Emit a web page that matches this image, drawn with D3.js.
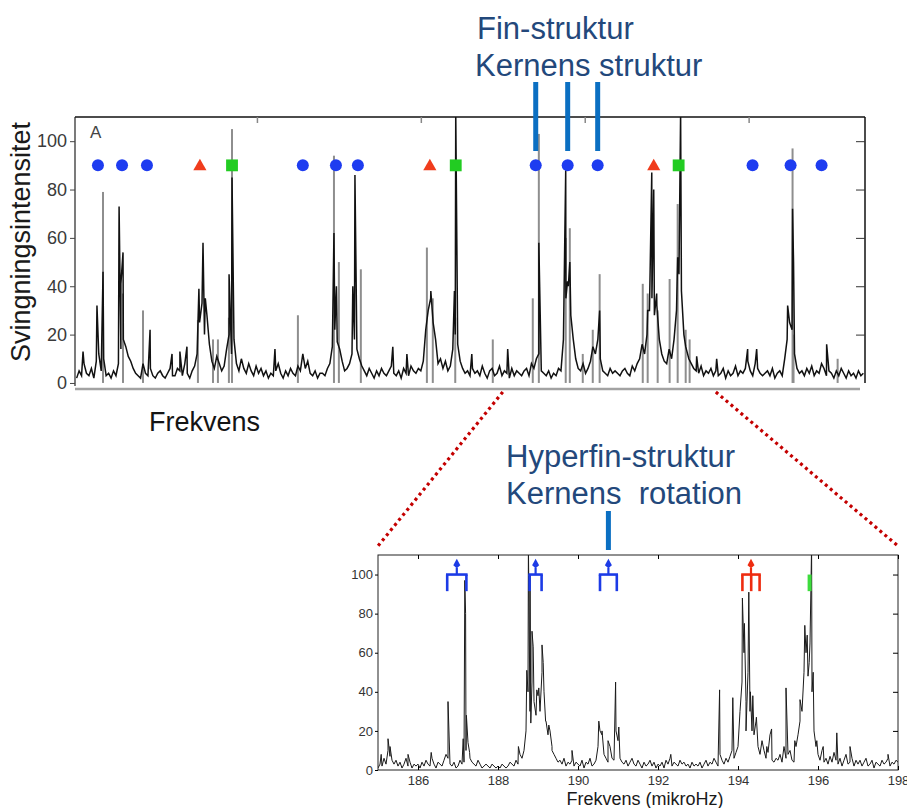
<!DOCTYPE html>
<html>
<head>
<meta charset="utf-8">
<script src="https://cdn.jsdelivr.net/npm/d3@7"></script>
<style>
    body { margin: 0; background: #fff; }
    text { font-family: "Liberation Sans", Arial, sans-serif; }
</style>
</head>
<body>
<div id="chart"></div>
<script>
// ---------- DATA ----------
// top panel: spectrum sampled every 0.15 microHz from 159.0
const topStart = 159.0, topStep = 0.15;
const topNoise = [
    2, 5, 3, 8, 4, 3, 6, 2, 9, 12, 5, 10, 3, 4, 2, 5, 3, 8, 14, 18,
    15, 11, 9, 6, 4, 3, 2, 8, 4, 3, 6, 3, 2, 4, 5, 3, 2, 4, 6, 3,
    3, 6, 5, 3, 8, 4, 2, 5, 7, 12, 25, 33, 20, 28, 16, 9, 6, 11, 8, 5,
    7, 14, 20, 12, 18, 8, 5, 10, 6, 4, 8, 5, 3, 7, 4, 6, 3, 5, 2, 4,
    3, 5, 8, 4, 2, 5, 3, 6, 4, 3, 7, 5, 12, 6, 9, 4, 3, 5, 2, 4,
    4, 3, 6, 8, 15, 22, 17, 14, 9, 5, 6, 8, 12, 18, 14, 10, 7, 5, 3, 6,
    4, 2, 5, 3, 6, 4, 3, 5, 7, 4, 3, 5, 2, 6, 4, 3, 7, 5, 4, 6,
    5, 9, 22, 30, 35, 25, 18, 8, 10, 6, 9, 5, 7, 14, 20, 16, 9, 6, 4, 5,
    3, 6, 4, 5, 3, 7, 4, 2, 5, 6, 3, 4, 7, 3, 5, 4, 2, 6, 3, 5,
    4, 3, 5, 6, 3, 8, 6, 10, 12, 5, 4, 3, 5, 2, 4, 3, 6, 5, 18, 35,
    40, 28, 18, 10, 6, 5, 8, 4, 6, 9, 15, 12, 18, 10, 5, 4, 3, 6, 4, 5,
    4, 3, 5, 6, 4, 3, 7, 5, 8, 10, 16, 12, 20, 30, 35, 28, 32, 18, 12, 9,
    8, 14, 10, 18, 30, 45, 38, 20, 14, 10, 8, 6, 5, 4, 7, 3, 5, 4, 6, 3,
    5, 3, 4, 6, 2, 5, 3, 4, 7, 3, 5, 4, 6, 9, 5, 3, 8, 6, 4, 3,
    4, 5, 3, 6, 2, 4, 5, 3, 10, 18, 25, 22, 12, 6, 4, 5, 3, 6, 4, 7,
    3, 5, 4, 8, 6, 3, 5, 4, 2, 5, 3, 6, 4, 2, 5, 3, 4, 2, 5, 3,
    4
];
// sharp peaks of the black spectrum [freq, power]
const topPeaks = [
    [159.39, 13], [160.24, 32], [160.61, 46], [161.59, 73], [161.70, 41], [161.83, 54],
    [163.48, 22], [164.82, 12], [165.30, 13], [165.73, 15], [166.46, 39], [166.71, 58],
    [166.85, 35], [168.30, 45], [168.48, 85], [171.10, 14], [174.70, 62], [174.85, 40],
    [175.85, 40], [175.98, 86], [178.29, 15], [179.15, 12], [180.45, 30], [180.61, 38],
    [182.05, 38], [182.13, 112], [183.11, 12], [185.30, 14], [187.20, 58], [188.84, 88],
    [188.95, 42], [189.09, 50], [190.91, 30], [193.84, 30], [194.09, 87], [194.21, 80],
    [194.39, 37], [195.67, 52], [195.85, 112], [196.16, 15], [196.83, 11], [198.05, 10],
    [199.94, 14], [200.49, 14], [202.38, 32], [202.68, 72], [202.74, 50], [204.76, 16]
];
// the grey (second) spectrum, only where it shows above the black one
const topGray = [
    [160.61, 79], [161.83, 37], [163.05, 30], [166.40, 26], [167.32, 18], [167.62, 18],
    [168.29, 27], [168.48, 105], [172.50, 28], [174.70, 94], [175.00, 50], [176.34, 47],
    [180.37, 56], [180.73, 35], [182.10, 27], [184.39, 18], [186.83, 35], [187.20, 103],
    [188.84, 60], [189.09, 64], [189.88, 12], [190.49, 22], [190.91, 45], [193.54, 41],
    [193.84, 37], [194.45, 30], [195.18, 43], [195.67, 74], [196.16, 22], [196.40, 18],
    [202.68, 97], [202.74, 20], [205.43, 10]
];
const topCircles = [160.30, 161.77, 163.29, 172.80, 174.82, 176.16, 187.01, 188.96, 190.79, 200.24, 202.56, 204.45];
const topTriangles = [166.52, 180.55, 194.21];
const topSquares = [168.48, 182.13, 195.73];
const fineModes = [187.01, 188.96, 190.79];
const topXTicks = [170, 180, 190, 200];
const yTicks = [0, 20, 40, 60, 80, 100];

// bottom panel: spectrum sampled every 0.05 microHz from 185.0
const botStart = 185.0, botStep = 0.05;
const botNoise = [
    1, 3, 2, 6, 3, 10, 7, 5, 3, 5, 2, 4, 1, 3, 6, 2, 4, 1, 3, 2,
    3, 1, 4, 2, 5, 3, 2, 6, 3, 1, 4, 3, 2, 5, 8, 6, 3, 2, 4, 1,
    2, 5, 3, 4, 10, 14, 6, 4, 3, 2, 5, 3, 1, 2, 3, 2, 1, 3, 2, 1,
    2, 1, 3, 2, 1, 2, 4, 3, 2, 5, 3, 8, 6, 10, 20, 40, 30, 45, 35, 28,
    38, 30, 50, 40, 25, 18, 20, 12, 8, 6, 4, 5, 3, 6, 2, 4, 3, 5, 2, 4,
    3, 2, 5, 1, 4, 3, 6, 2, 3, 5, 12, 20, 18, 8, 6, 4, 12, 6, 5, 20,
    15, 6, 4, 3, 5, 2, 4, 6, 3, 2, 5, 3, 1, 4, 2, 3, 5, 2, 4, 1,
    3, 2, 4, 1, 5, 3, 6, 2, 4, 3, 2, 5, 3, 4, 2, 3, 1, 4, 2, 3,
    2, 4, 1, 3, 5, 2, 4, 3, 6, 4, 2, 8, 5, 3, 6, 4, 7, 10, 6, 9,
    12, 30, 45, 60, 35, 50, 30, 20, 18, 25, 12, 8, 15, 10, 6, 9, 18, 5, 4, 6,
    5, 8, 4, 12, 6, 8, 10, 5, 4, 12, 18, 25, 30, 50, 60, 48, 65, 40, 20, 12,
    8, 5, 10, 4, 6, 3, 7, 4, 9, 5, 3, 6, 2, 5, 8, 3, 4, 6, 2, 5,
    3, 5, 2, 4, 6, 2, 3, 5, 1, 4, 3, 2, 5, 3, 4, 6, 2, 4, 3, 5,
    4
];
const botPeaks = [
    [185.08, 8], [185.25, 16], [185.30, 12], [185.75, 8], [186.33, 9], [186.75, 35],
    [187.13, 16], [187.17, 97], [187.19, 80], [187.21, 28], [187.29, 9], [188.51, 12],
    [188.72, 51], [188.76, 115], [188.80, 100], [188.82, 24], [188.85, 71], [188.88, 63],
    [188.97, 41], [189.02, 42], [189.10, 64], [189.13, 55], [189.19, 25], [189.27, 23],
    [189.35, 10], [189.85, 10], [190.52, 25], [190.60, 20], [190.75, 15], [190.94, 45],
    [191.02, 22], [192.32, 8], [193.54, 41], [193.87, 37], [194.11, 88], [194.16, 75],
    [194.20, 20], [194.27, 91], [194.31, 40], [194.37, 38], [194.46, 27], [194.72, 12],
    [194.84, 21], [195.20, 42], [195.42, 15], [195.55, 36], [195.67, 74], [195.73, 69],
    [195.78, 55], [195.84, 115], [195.88, 50], [195.97, 15], [196.13, 12], [196.47, 19],
    [196.80, 12], [197.75, 8]
];
// split components of the modes (legs of each marker)
const blueSplits = [[186.73, 187.21], [188.79, 189.09], [190.55, 190.97]];
const redSplits = [[194.11, 194.33, 194.54]];
const greenSplits = [[195.79]];
const hyperMode = 190.76;
const zoomRange = [185, 198];
const botXTicks = [186, 188, 190, 192, 194, 196, 198];

// ---------- SVG ----------
const svg = d3.select("#chart").append("svg")
    .attr("width", 907)
    .attr("height", 808);

const darkBlue = "#23487b";

// ---------- TOP PANEL ----------
const xTop = d3.scaleLinear().domain([158.9, 207.1]).range([75, 865]);
const yTop = d3.scaleLinear().domain([-2.5, 110]).range([389, 117]);

svg.append("clipPath").attr("id", "topClip")
    .append("rect").attr("x", 75).attr("y", 117).attr("width", 790).attr("height", 272);

const topPlot = svg.append("g").attr("clip-path", "url(#topClip)");

topPlot.selectAll(".gspike").data(topGray).join("line")
    .attr("class", "gspike")
    .attr("x1", d => xTop(d[0])).attr("x2", d => xTop(d[0]))
    .attr("y1", yTop(0)).attr("y2", d => yTop(d[1]))
    .attr("stroke", "#8e8e8e")
    .attr("stroke-width", 2);

let topSeries = topNoise.map((v, i) => [topStart + i * topStep, v])
    .concat(topPeaks)
    .sort((a, b) => a[0] - b[0]);

topPlot.append("path")
    .datum(topSeries)
    .attr("fill", "none")
    .attr("stroke", "#111")
    .attr("stroke-width", 1.5)
    .attr("d", d3.line().x(d => xTop(d[0])).y(d => yTop(d[1])));

// frame
svg.append("line").attr("x1", 75).attr("x2", 865).attr("y1", 117).attr("y2", 117)
    .attr("stroke", "#111").attr("stroke-width", 1.5);
svg.append("line").attr("x1", 75).attr("x2", 75).attr("y1", 117).attr("y2", 386)
    .attr("stroke", "#222").attr("stroke-width", 1.2);
svg.append("line").attr("x1", 865).attr("x2", 865).attr("y1", 117).attr("y2", 383)
    .attr("stroke", "#111").attr("stroke-width", 1.5);
svg.append("line").attr("x1", 75).attr("x2", 860).attr("y1", 389).attr("y2", 389)
    .attr("stroke", "#a2a2a2").attr("stroke-width", 2.5);

// axes
const topLeft = svg.append("g")
    .attr("transform", "translate(75,0)")
    .call(d3.axisLeft(yTop).tickValues(yTicks).tickSize(5).tickPadding(3));
topLeft.select(".domain").remove();
topLeft.selectAll("text").style("font-size", "18px").attr("fill", "#3a3a3a");
topLeft.selectAll("line").attr("stroke", "#444");

const topRight = svg.append("g")
    .attr("transform", "translate(865,0)")
    .call(d3.axisLeft(yTop).tickValues(yTicks.slice(1)).tickSize(9).tickFormat(""));
topRight.select(".domain").remove();
topRight.selectAll("line").attr("stroke", "#333");

const topTop = svg.append("g")
    .attr("transform", "translate(0,117)")
    .call(d3.axisBottom(xTop).tickValues(topXTicks).tickSize(6).tickFormat(""));
topTop.select(".domain").remove();
topTop.selectAll("line").attr("stroke", "#888").attr("stroke-width", 1.5);

// markers
svg.selectAll(".circ").data(topCircles).join("circle")
    .attr("class", "circ")
    .attr("cx", d => xTop(d)).attr("cy", yTop(90)).attr("r", 6)
    .attr("fill", "#1e3cf0");
svg.selectAll(".tri").data(topTriangles).join("path")
    .attr("class", "tri")
    .attr("transform", d => "translate(" + xTop(d) + "," + (yTop(90) + 1) + ")")
    .attr("d", d3.symbol(d3.symbolTriangle, 75))
    .attr("fill", "#f03c1c");
svg.selectAll(".sq").data(topSquares).join("path")
    .attr("class", "sq")
    .attr("transform", d => "translate(" + xTop(d) + "," + yTop(90) + ")")
    .attr("d", d3.symbol(d3.symbolSquare, 140))
    .attr("fill", "#22cc22");

svg.append("text").attr("x", 90).attr("y", 138).text("A")
    .style("font-size", "17px").attr("fill", "#444");

svg.append("text")
    .attr("transform", "translate(30,242) rotate(-90)")
    .attr("text-anchor", "middle")
    .style("font-size", "27px")
    .attr("fill", "#1a1a1a")
    .text("Svingningsintensitet");

svg.append("text").attr("x", 149).attr("y", 431)
    .style("font-size", "27px").attr("fill", "#141414")
    .text("Frekvens");

// fine structure pointers
svg.selectAll(".fine").data(fineModes).join("line")
    .attr("class", "fine")
    .attr("x1", d => xTop(d)).attr("x2", d => xTop(d))
    .attr("y1", 82).attr("y2", 151)
    .attr("stroke", "#0b6fc2").attr("stroke-width", 5);

svg.append("text").attr("x", 477).attr("y", 39)
    .style("font-size", "31px").attr("fill", darkBlue).text("Fin-struktur");
svg.append("text").attr("x", 475).attr("y", 76)
    .style("font-size", "31px").attr("fill", darkBlue).text("Kernens struktur");

// ---------- BOTTOM PANEL ----------
const xBot = d3.scaleLinear().domain([185, 198]).range([378, 898]);
const yBot = d3.scaleLinear().domain([0, 110]).range([770, 555]);

// zoom connectors
svg.selectAll(".zoomline").data(zoomRange).join("line")
    .attr("class", "zoomline")
    .attr("x1", d => xTop(d)).attr("y1", 392)
    .attr("x2", d => xBot(d)).attr("y2", 546)
    .attr("stroke", "#c40000")
    .attr("stroke-width", 3.2)
    .attr("stroke-dasharray", "3 3.5");

svg.append("clipPath").attr("id", "botClip")
    .append("rect").attr("x", 378).attr("y", 555).attr("width", 520).attr("height", 215);

let botSeries = botNoise.map((v, i) => [botStart + i * botStep, v])
    .concat(botPeaks)
    .sort((a, b) => a[0] - b[0]);

svg.append("g").attr("clip-path", "url(#botClip)")
    .append("path")
    .datum(botSeries)
    .attr("fill", "none")
    .attr("stroke", "#1a1a1a")
    .attr("stroke-width", 1)
    .attr("d", d3.line().x(d => xBot(d[0])).y(d => yBot(d[1])));

svg.append("rect").attr("x", 378).attr("y", 555).attr("width", 520).attr("height", 215)
    .attr("fill", "none").attr("stroke", "#222").attr("stroke-width", 1);

const botAxis = svg.append("g")
    .attr("transform", "translate(0,770)")
    .call(d3.axisBottom(xBot).tickValues(botXTicks).tickSize(-4).tickPadding(6));
botAxis.select(".domain").remove();
botAxis.selectAll("text").style("font-size", "13px").attr("fill", "#333");

const botLeft = svg.append("g")
    .attr("transform", "translate(378,0)")
    .call(d3.axisLeft(yBot).tickValues(yTicks).tickSize(3).tickPadding(2));
botLeft.select(".domain").remove();
botLeft.selectAll("text").style("font-size", "13px").attr("fill", "#333");

const botTop = svg.append("g")
    .attr("transform", "translate(0,555)")
    .call(d3.axisBottom(xBot).tickValues(botXTicks).tickSize(4).tickFormat(""));
botTop.select(".domain").remove();

const botRight = svg.append("g")
    .attr("transform", "translate(898,0)")
    .call(d3.axisLeft(yBot).tickValues(yTicks.slice(1)).tickSize(5).tickFormat(""));
botRight.select(".domain").remove();

// split markers: bar, legs and a drop on top
function drawSplits(data, color, width) {
    const g = svg.append("g");
    data.forEach(legs => {
        const x0 = xBot(legs[0]), x1 = xBot(legs[legs.length - 1]);
        const cx = (x0 + x1) / 2;
        legs.forEach(f => {
            g.append("line")
                .attr("x1", xBot(f)).attr("x2", xBot(f))
                .attr("y1", yBot(100)).attr("y2", yBot(91.5))
                .attr("stroke", color).attr("stroke-width", width);
        });
        if (legs.length > 1) {
            g.append("line").attr("x1", x0 - 1.2).attr("x2", x1 + 1.2)
                .attr("y1", yBot(100)).attr("y2", yBot(100))
                .attr("stroke", color).attr("stroke-width", 2.6);
            g.append("line").attr("x1", cx).attr("x2", cx)
                .attr("y1", yBot(100)).attr("y2", yBot(103.5))
                .attr("stroke", color).attr("stroke-width", 2.2);
            const ty = yBot(105);
            g.append("path")
                .attr("d", "M" + cx + "," + (ty - 6) + " L" + (cx + 3.5) + "," + (ty + 0.5) +
                    " L" + cx + "," + (ty + 3.5) + " L" + (cx - 3.5) + "," + (ty + 0.5) + " Z")
                .attr("fill", color);
        }
    });
}
drawSplits(blueSplits, "#1c3be6", 2.6);
drawSplits(redSplits, "#ee2c10", 2.6);
drawSplits(greenSplits, "#3ddc3d", 4);

svg.append("text").attr("x", 645).attr("y", 805)
    .attr("text-anchor", "middle")
    .style("font-size", "18px").attr("fill", "#1a1a1a")
    .text("Frekvens (mikroHz)");

// hyperfine pointer
svg.append("line")
    .attr("x1", xBot(hyperMode)).attr("x2", xBot(hyperMode))
    .attr("y1", 511).attr("y2", 550)
    .attr("stroke", "#0b6fc2").attr("stroke-width", 5);

svg.append("text").attr("x", 506).attr("y", 467)
    .style("font-size", "31px").attr("fill", darkBlue).text("Hyperfin-struktur");
svg.append("text").attr("x", 506).attr("y", 504)
    .style("font-size", "31px").attr("fill", darkBlue)
    .attr("xml:space", "preserve").style("white-space", "pre")
    .text("Kernens  rotation");
</script>
</body>
</html>
